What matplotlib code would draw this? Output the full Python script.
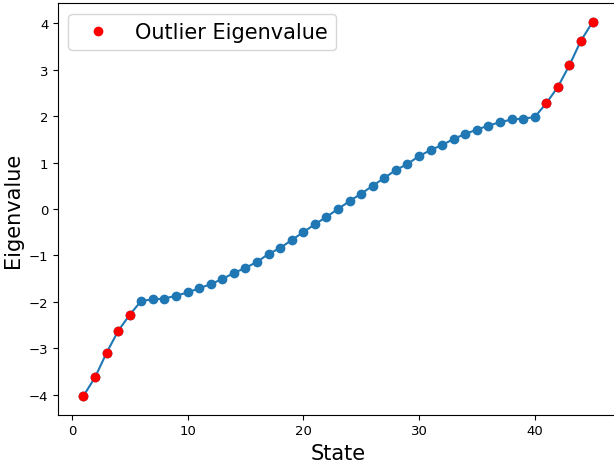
import matplotlib
matplotlib.use("Agg")
import matplotlib.pyplot as plt
import numpy as np

states = np.arange(1, 46)
eigenvalues = [-4.03, -3.63, -3.10, -2.63, -2.28, -1.98, -1.95, -1.93, -1.87, -1.80,
               -1.71, -1.62, -1.51, -1.38, -1.27, -1.14, -0.97, -0.84, -0.67, -0.50,
               -0.33, -0.17, 0.0, 0.17, 0.33, 0.50, 0.67, 0.84, 0.97, 1.14,
               1.27, 1.38, 1.51, 1.62, 1.71, 1.80, 1.87, 1.93, 1.95, 1.98,
               2.28, 2.63, 3.10, 3.63, 4.03]
outlier_states = [1, 2, 3, 4, 5, 41, 42, 43, 44, 45]

eigenvalues = np.array(eigenvalues)
outlier_idx = np.array(outlier_states) - 1

fig = plt.figure(figsize=(6.14, 4.64), dpi=100)
ax = fig.add_axes([58 / 614, 48.4 / 464, 560 / 614, 411.2 / 464])

ax.plot(states, eigenvalues, 'o-', color='#1f77b4')
ax.plot(states[outlier_idx], eigenvalues[outlier_idx], 'o', color='red', label='Outlier Eigenvalue')

ax.tick_params(labelsize=9.5)
ax.set_xlabel('State', fontsize=15)
ax.set_ylabel('Eigenvalue', fontsize=15)
ax.legend(fontsize=15, loc='upper left')

fig.savefig('out.png', dpi=100)
